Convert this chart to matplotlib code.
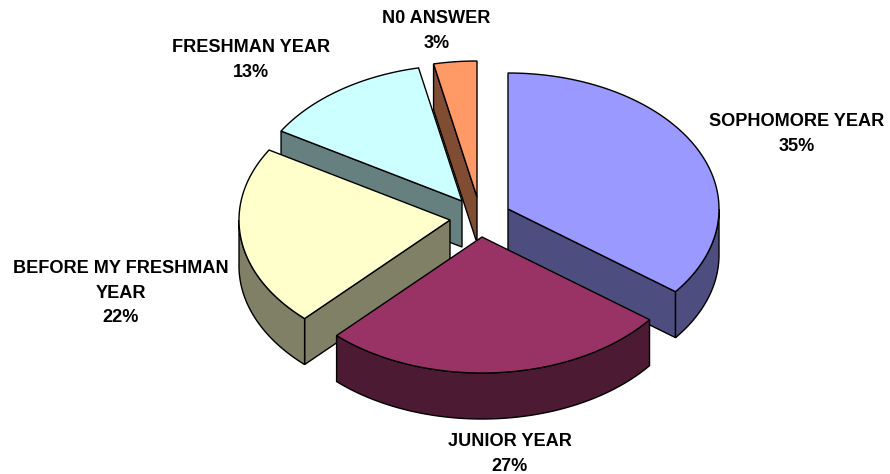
# Exploded 3D-look pie chart, drawn with polygons in pixel coordinates
import numpy as np
import matplotlib
matplotlib.use("Agg")
import matplotlib.pyplot as plt
from matplotlib.patches import Polygon

plt.rcParams['font.family'] = ['Liberation Sans', 'DejaVu Sans']

labels = ["SOPHOMORE YEAR", "JUNIOR YEAR", "BEFORE MY FRESHMAN\nYEAR", "FRESHMAN YEAR", "N0 ANSWER"]
percent_labels = ["35%", "27%", "22%", "13%", "3%"]
# slice sizes, a bit finer than the rounded labels
values = [35.4, 26.7, 21.5, 13.1, 3.3]
top_colors = ["#9999FF", "#993366", "#FFFFCC", "#CCFFFF", "#FF9966"]
side_colors = ["#4D4D80", "#4D1A33", "#808066", "#668080", "#804D33"]

# slice apex in pixels, and where the label goes
apex = [(508, 209), (482, 237), (450, 220), (462, 201), (477, 197)]
label_pos = [(796.5, 134), (510, 454), (121, 293), (251, 60), (436.5, 31)]
draw_order = [3, 4, 2, 0, 1]

RX, RY = 211, 136
DEPTH = 46

fig = plt.figure(figsize=(8.9, 4.74), dpi=100)
ax = fig.add_axes([0, 0, 1, 1])
ax.set_xlim(0, 890)
ax.set_ylim(474, 0)
ax.axis("off")


def rim(cx, cy, a0, a1):
    t = np.radians(np.linspace(a0, a1, max(2, int(abs(a1 - a0)) * 2)))
    return np.column_stack([cx + RX * np.sin(t), cy - RY * np.cos(t)])


def cross(a, b):
    return a[0] * b[1] - a[1] * b[0]


def draw_slice(i, a0, a1):
    cx, cy = apex[i]
    down = np.array([0, DEPTH])
    arc = rim(cx, cy, a0, a1)
    c = np.array([cx, cy])
    mid = rim(cx, cy, (a0 + a1) / 2, (a0 + a1) / 2 + 1)[0] - c

    # radial side faces, only when they look towards the viewer
    for p in (arc[0], arc[-1]):
        d = p - c
        s = cross(d, down)
        if abs(d[0]) > 1e-6 and s * cross(d, mid) < 0:
            ax.add_patch(Polygon([c, p, p + down, c + down], closed=True, fc=side_colors[i], ec="black", lw=1))

    # outer wall on the front half of the ellipse
    lo, hi = max(a0, 90), min(a1, 270)
    if hi > lo:
        front = rim(cx, cy, lo, hi)
        ax.add_patch(Polygon(np.vstack([front, (front + down)[::-1]]), closed=True,
                             fc=side_colors[i], ec="black", lw=1))

    # top
    ax.add_patch(Polygon(np.vstack([c, arc]), closed=True, fc=top_colors[i], ec="black", lw=1))


edges = np.cumsum([0] + values) / sum(values) * 360
for i in draw_order:
    draw_slice(i, edges[i], edges[i + 1])

for name, pct, pos in zip(labels, percent_labels, label_pos):
    ax.text(pos[0], pos[1], f"{name}\n{pct}", ha="center", va="center", fontsize=13.1,
            fontweight="bold", color="black", linespacing=1.55)

fig.savefig("out.png", dpi=100, facecolor="white")
